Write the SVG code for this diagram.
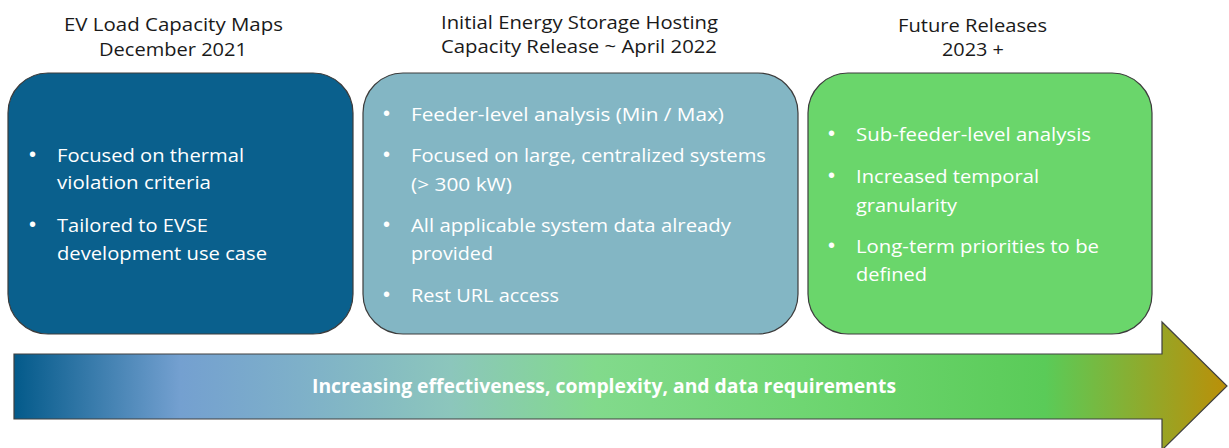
<svg xmlns="http://www.w3.org/2000/svg" width="1229" height="448" viewBox="0 0 1229 448">
  <style>
    .title { font-family: "Open Sans", "Liberation Sans", sans-serif; font-size: 19px; fill: #1a1a1a; }
    .body { font-family: "Open Sans", "Liberation Sans", sans-serif; font-size: 19px; fill: #ffffff; }
    .bul { font-family: "Liberation Sans", "Open Sans", sans-serif; font-size: 20px; fill: #ffffff; }
    .box { stroke: #3c3c3c; stroke-width: 1.2; }
    .arrowtxt { font-family: "Open Sans", "Liberation Sans", sans-serif; font-size: 19px; font-weight: bold; fill: #ffffff; }
  </style>
  <defs>
    <linearGradient id="grad" gradientUnits="userSpaceOnUse" x1="14" y1="0" x2="1227" y2="0">
      <stop offset="0" stop-color="#035a8a"/>
      <stop offset="0.137" stop-color="#74a0d0"/>
      <stop offset="0.235" stop-color="#7eb0c9"/>
      <stop offset="0.36" stop-color="#8cc6bc"/>
      <stop offset="0.48" stop-color="#82da8c"/>
      <stop offset="0.65" stop-color="#6fd672"/>
      <stop offset="0.85" stop-color="#5acb58"/>
      <stop offset="1" stop-color="#bb8f08"/>
    </linearGradient>
  </defs>

  <g id="connectors">
    <path d="M14,354 L1162,354 L1162,322 L1227,386 L1162,450 L1162,419 L14,419 Z" fill="url(#grad)" stroke="#404040" stroke-width="1.2"/>
    <text class="arrowtxt" x="312" y="393" textLength="584" lengthAdjust="spacingAndGlyphs">Increasing effectiveness, complexity, and data requirements</text>
  </g>

  <g id="node-ev">
    <text class="title" x="64" y="31" textLength="219" lengthAdjust="spacingAndGlyphs">EV Load Capacity Maps</text>
    <text class="title" x="99" y="56" textLength="148" lengthAdjust="spacingAndGlyphs">December 2021</text>
    <rect class="box" x="8" y="73" width="345" height="261" rx="40" ry="40" fill="#0a608d"/>
    <text class="bul" x="29" y="161">•</text>
    <text class="body" x="57" y="162" textLength="187" lengthAdjust="spacingAndGlyphs">Focused on thermal</text>
    <text class="body" x="57" y="189" textLength="154" lengthAdjust="spacingAndGlyphs">violation criteria</text>
    <text class="bul" x="29" y="231">•</text>
    <text class="body" x="57" y="232" textLength="151" lengthAdjust="spacingAndGlyphs">Tailored to EVSE</text>
    <text class="body" x="57" y="260" textLength="210" lengthAdjust="spacingAndGlyphs">development use case</text>
  </g>

  <g id="node-storage">
    <text class="title" x="441" y="29" textLength="277" lengthAdjust="spacingAndGlyphs">Initial Energy Storage Hosting</text>
    <text class="title" x="441" y="53" textLength="276" lengthAdjust="spacingAndGlyphs">Capacity Release ~ April 2022</text>
    <rect class="box" x="363" y="73" width="435" height="261" rx="40" ry="40" fill="#83b6c4"/>
    <text class="bul" x="383" y="120">•</text>
    <text class="body" x="411" y="121" textLength="313" lengthAdjust="spacingAndGlyphs">Feeder-level analysis (Min / Max)</text>
    <text class="bul" x="383" y="161">•</text>
    <text class="body" x="411" y="162" textLength="355" lengthAdjust="spacingAndGlyphs">Focused on large, centralized systems</text>
    <text class="body" x="411" y="191" textLength="101" lengthAdjust="spacingAndGlyphs">(&gt; 300 kW)</text>
    <text class="bul" x="383" y="231">•</text>
    <text class="body" x="411" y="232" textLength="320" lengthAdjust="spacingAndGlyphs">All applicable system data already</text>
    <text class="body" x="411" y="260" textLength="82" lengthAdjust="spacingAndGlyphs">provided</text>
    <text class="bul" x="383" y="301">•</text>
    <text class="body" x="411" y="302" textLength="148" lengthAdjust="spacingAndGlyphs">Rest URL access</text>
  </g>

  <g id="node-future">
    <text class="title" x="898" y="32" textLength="149" lengthAdjust="spacingAndGlyphs">Future Releases</text>
    <text class="title" x="942" y="56" textLength="62" lengthAdjust="spacingAndGlyphs">2023 +</text>
    <rect class="box" x="808" y="73" width="344" height="261" rx="40" ry="40" fill="#6ad66b"/>
    <text class="bul" x="828" y="140">•</text>
    <text class="body" x="856" y="141" textLength="235" lengthAdjust="spacingAndGlyphs">Sub-feeder-level analysis</text>
    <text class="bul" x="828" y="182">•</text>
    <text class="body" x="856" y="183" textLength="183" lengthAdjust="spacingAndGlyphs">Increased temporal</text>
    <text class="body" x="856" y="212" textLength="101" lengthAdjust="spacingAndGlyphs">granularity</text>
    <text class="bul" x="828" y="252">•</text>
    <text class="body" x="856" y="253" textLength="243" lengthAdjust="spacingAndGlyphs">Long-term priorities to be</text>
    <text class="body" x="856" y="281" textLength="71" lengthAdjust="spacingAndGlyphs">defined</text>
  </g>
</svg>
